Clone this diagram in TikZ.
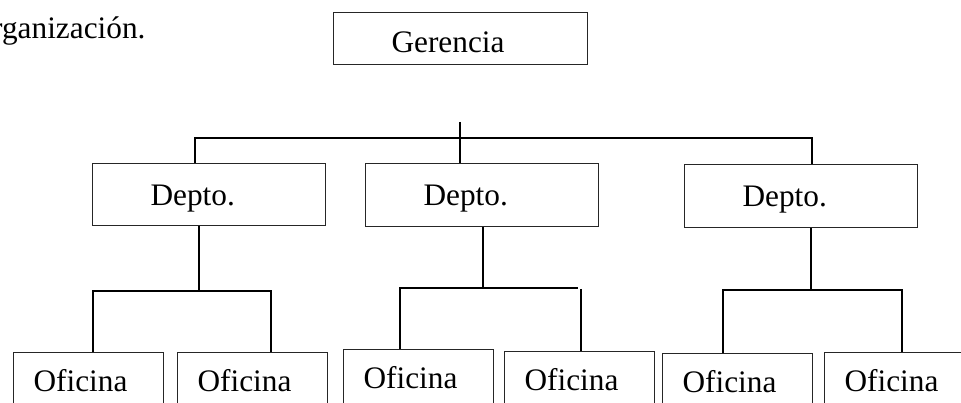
\documentclass[tikz,border=0pt]{standalone}
\usepackage{fontspec}
\setmainfont{Liberation Serif}
\usepackage{tikz}
\usetikzlibrary{positioning, calc}

\begin{document}
\begin{tikzpicture}[x=1pt, y=-1pt,
    unit/.style={draw=black!85, line width=1.1pt, anchor=north west, inner ysep=0pt,
      align=left, text height=21pt, text depth=0pt, font=\fontsize{31.3}{36}\selectfont},
    deptbox/.style={unit, inner xsep=58pt, text width=117pt, minimum width=233pt, minimum height=62pt},
    officebox/.style={unit, inner xsep=20pt, text width=110pt, minimum width=150pt, minimum height=56pt},
    link/.style={line width=1.3pt}]
  \useasboundingbox (0,0) rectangle (961,403);
  \clip (0,0) rectangle (961,403);

  \node[anchor=base east, font=\fontsize{31.3}{36}\selectfont] (caption) at (149,39) {organización.};

  % gerencia y departamentos
  \node[unit, inner xsep=58pt, text width=138pt, minimum width=254pt, minimum height=52pt, text height=28pt] (ger) at (333,12) {Gerencia};
  \node[deptbox] (dep1) at (92,163) {Depto.};
  \node[deptbox, minimum height=63pt] (dep2) at (365,163) {Depto.};
  \node[deptbox, minimum height=63pt] (dep3) at (684,164) {Depto.};

  % oficinas
  \node[officebox] (of1) at (13,352) {Oficina};
  \node[officebox] (of2) at (177,352) {Oficina};
  \node[officebox] (of3) at (343,349) {Oficina};
  \node[officebox] (of4) at (504,351) {Oficina};
  \node[officebox] (of5) at (662,353) {Oficina};
  \node[officebox] (of6) at (824,352) {Oficina};

  % lineas de mando
  \coordinate (stub) at (460,122);
  \coordinate (busL) at (195,138);
  \coordinate (busR) at (812,138);
  \draw[link] (stub) -- (stub |- dep2.north);
  \draw[link] (busL |- dep1.north) -- (busL) -- (busR) -- (busR |- dep3.north);

  \coordinate (j1) at (199,291);
  \coordinate (a1) at (93,291);
  \coordinate (b1) at (271,291);
  \draw[link] (j1 |- dep1.south) -- (j1);
  \draw[link] (a1 |- of1.north) -- (a1) -- (b1) -- (b1 |- of2.north);

  \coordinate (j2) at (483,288);
  \coordinate (a2) at (400,288);
  \coordinate (b2) at (578,288);
  \coordinate (c2) at (581,289);
  \draw[link] (j2 |- dep2.south) -- (j2);
  \draw[link] (a2 |- of3.north) -- (a2) -- (b2);
  \draw[link] (c2) -- (c2 |- of4.north);

  \coordinate (j3) at (811,290);
  \coordinate (a3) at (723,290);
  \coordinate (b3) at (902,290);
  \draw[link] (j3 |- dep3.south) -- (j3);
  \draw[link] (a3 |- of5.north) -- (a3) -- (b3) -- (b3 |- of6.north);
\end{tikzpicture}
\end{document}
